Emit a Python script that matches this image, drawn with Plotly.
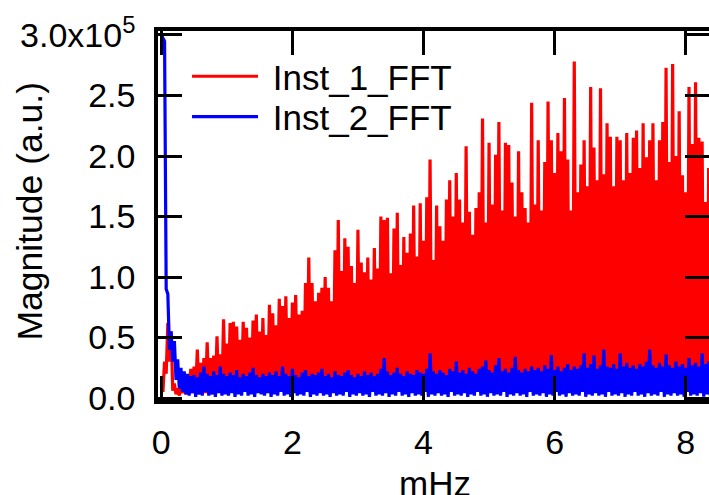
import numpy as np
import plotly.graph_objects as go

# Frequency grid step (mHz); peaks at i*STEP, troughs halfway between
STEP = 0.05

# Magnitudes in units of 1e5 (a.u.)
red_peak = [0.10,0.30,0.62,0.55,0.12,0.08,0.10,0.12,0.15,0.24,
            0.26,0.40,0.29,0.33,0.46,0.33,0.35,0.51,0.36,0.65,
            0.45,0.62,0.63,0.59,0.48,0.63,0.58,0.50,0.64,0.69,
            0.55,0.66,0.52,0.77,0.70,0.60,0.82,0.76,0.84,0.66,
            0.79,0.85,0.69,0.72,0.95,1.16,0.95,0.80,0.87,0.91,
            1.00,0.91,0.80,1.22,1.47,1.05,1.32,1.25,1.09,0.95,
            1.39,1.12,1.04,1.16,0.98,1.24,1.07,1.50,1.47,1.49,
            1.03,1.40,1.53,1.10,1.33,1.20,1.36,1.59,1.17,1.61,
            1.30,1.66,1.97,1.14,1.59,1.42,1.30,1.64,1.80,1.50,
            1.86,1.64,1.45,2.08,1.54,1.35,1.57,1.70,2.31,1.45,
            2.11,1.60,2.01,2.28,1.55,2.11,2.09,1.78,1.50,2.04,
            1.70,1.57,1.45,2.44,1.60,2.13,1.55,1.95,2.45,2.13,
            1.86,2.19,2.04,2.48,1.97,1.55,2.78,1.70,1.93,2.13,
            1.75,2.57,2.07,1.80,2.56,1.85,2.27,2.16,1.75,2.16,
            2.13,1.80,2.19,1.86,2.15,2.21,1.90,2.27,1.99,2.13,
            2.27,1.80,2.13,2.28,2.73,1.95,2.76,2.00,2.37,1.84,
            1.70,2.57,2.10,2.61,2.15,2.12,1.62,1.90]

red_trough = [0.05,0.20,0.30,0.06,0.03,0.02,0.04,0.03,0.05,0.04,
              0.06,0.03,0.05,0.04,0.07,0.03,0.05,0.06,0.04,0.08,
              0.05,0.07,0.04,0.06,0.09,0.05,0.07,0.04,0.08,0.06,
              0.05,0.09,0.06,0.04,0.08,0.07,0.05,0.10,0.06,0.08,
              0.07,0.05,0.09,0.06,0.10,0.07,0.05,0.08,0.11,0.06,
              0.09,0.07,0.10,0.05,0.08,0.12,0.07,0.09,0.06,0.10,
              0.08,0.11,0.07,0.09,0.12,0.06,0.10,0.08,0.11,0.07,
              0.09,0.12,0.08,0.10,0.07,0.11,0.09,0.13,0.08,0.10,
              0.12,0.09,0.11,0.08,0.13,0.10,0.12,0.09,0.11,0.14,
              0.10,0.12,0.09,0.13,0.11,0.10,0.14,0.12,0.09,0.13,
              0.11,0.14,0.10,0.12,0.15,0.11,0.13,0.10,0.14,0.12,
              0.15,0.11,0.13,0.12,0.14,0.10,0.15,0.13,0.11,0.14,
              0.12,0.16,0.13,0.11,0.15,0.12,0.14,0.13,0.16,0.12,
              0.14,0.11,0.15,0.13,0.16,0.12,0.14,0.15,0.13,0.16,
              0.12,0.15,0.14,0.13,0.16,0.12,0.15,0.14,0.16,0.13,
              0.15,0.12,0.16,0.14,0.13,0.15,0.16,0.12,0.14,0.15,
              0.13,0.16,0.14,0.12,0.15,0.13,0.16,0.14]

blue_peak = [3.00,2.95,0.86,0.55,0.47,0.32,0.25,0.22,0.20,0.18,
             0.19,0.17,0.21,0.26,0.20,0.18,0.22,0.19,0.26,0.20,
             0.18,0.21,0.19,0.23,0.17,0.20,0.18,0.21,0.25,0.19,
             0.17,0.20,0.18,0.21,0.19,0.22,0.18,0.26,0.20,0.18,
             0.24,0.19,0.17,0.21,0.23,0.18,0.20,0.19,0.21,0.24,
             0.18,0.20,0.17,0.22,0.19,0.18,0.21,0.23,0.19,0.17,
             0.20,0.18,0.22,0.19,0.21,0.18,0.20,0.24,0.33,0.22,
             0.19,0.21,0.25,0.20,0.18,0.22,0.20,0.19,0.23,0.21,
             0.20,0.24,0.37,0.22,0.20,0.23,0.21,0.19,0.24,0.22,
             0.30,0.21,0.23,0.20,0.25,0.22,0.20,0.24,0.26,0.31,
             0.23,0.21,0.27,0.33,0.22,0.24,0.21,0.25,0.34,0.23,
             0.21,0.24,0.22,0.26,0.23,0.25,0.22,0.27,0.24,0.355,
             0.23,0.26,0.22,0.25,0.28,0.23,0.26,0.24,0.27,0.37,
             0.25,0.28,0.35,0.24,0.27,0.40,0.26,0.25,0.28,0.24,
             0.37,0.26,0.29,0.25,0.27,0.24,0.28,0.26,0.30,0.40,
             0.27,0.25,0.29,0.26,0.36,0.27,0.25,0.30,0.26,0.28,
             0.25,0.33,0.27,0.29,0.26,0.37,0.28,0.30]

blue_trough = [2.98,0.90,0.40,0.30,0.15,0.08,0.05,0.03,0.02,0.04,
               0.01,0.03,0.02,0.05,0.02,0.03,0.01,0.04,0.02,0.03,
               0.02,0.04,0.01,0.03,0.02,0.05,0.02,0.03,0.01,0.04,
               0.03,0.02,0.04,0.01,0.03,0.02,0.05,0.02,0.03,0.01,
               0.04,0.02,0.03,0.02,0.05,0.01,0.03,0.02,0.04,0.02,
               0.03,0.01,0.04,0.02,0.03,0.02,0.05,0.01,0.03,0.02,
               0.04,0.02,0.03,0.01,0.05,0.02,0.03,0.02,0.04,0.01,
               0.03,0.02,0.05,0.02,0.03,0.01,0.04,0.02,0.03,0.02,
               0.05,0.01,0.03,0.02,0.04,0.02,0.03,0.01,0.05,0.02,
               0.03,0.02,0.04,0.01,0.03,0.02,0.05,0.02,0.03,0.01,
               0.04,0.02,0.03,0.02,0.05,0.01,0.03,0.02,0.04,0.02,
               0.03,0.01,0.05,0.02,0.03,0.02,0.04,0.01,0.03,0.02,
               0.05,0.02,0.03,0.01,0.04,0.02,0.03,0.02,0.05,0.01,
               0.03,0.02,0.04,0.02,0.03,0.01,0.05,0.02,0.03,0.02,
               0.04,0.01,0.03,0.02,0.05,0.02,0.03,0.01,0.04,0.02,
               0.03,0.02,0.05,0.01,0.03,0.02,0.04,0.02,0.03,0.01,
               0.05,0.02,0.03,0.02,0.04,0.01,0.03,0.02]

x_tickvals = [0, 2, 4, 6, 8]
x_ticktext = ["0", "2", "4", "6", "8"]
y_tickvals = [0, 0.5, 1.0, 1.5, 2.0, 2.5, 3.0]
y_ticktext = ["0.0", "0.5", "1.0", "1.5", "2.0", "2.5", "3.0x10<sup>5</sup>"]


def interleave(peaks, troughs):
    n = len(peaks)
    f = np.empty(2 * n)
    v = np.empty(2 * n)
    f[0::2] = np.arange(n) * STEP
    f[1::2] = np.arange(n) * STEP + STEP / 2
    v[0::2] = peaks
    v[1::2] = troughs
    return f, v


fr, vr = interleave(red_peak, red_trough)
fb, vb = interleave(blue_peak, blue_trough)

FONT = "Liberation Sans, Arial, sans-serif"
fig = go.Figure()
fig.add_trace(go.Scatter(x=fr, y=vr, mode="lines", name="\u00a0Inst_1_FFT",
                         line=dict(color="#ff0000", width=3.2), legend="legend"))
fig.add_trace(go.Scatter(x=fb, y=vb, mode="lines", name="\u00a0Inst_2_FFT",
                         line=dict(color="#0000ff", width=3.2), legend="legend2"))

leg_common = dict(x=0.0527, xanchor="left", yanchor="top",
                  bgcolor="rgba(0,0,0,0)", itemwidth=66, font=dict(size=35))

fig.update_layout(
    width=709, height=495,
    margin=dict(l=158, r=0, t=31, b=95),
    paper_bgcolor="white", plot_bgcolor="white",
    font=dict(family=FONT, size=34, color="black"),
    showlegend=True,
    legend=dict(y=0.9566, **leg_common),
    legend2=dict(y=0.8471, **leg_common),
    xaxis=dict(range=[-0.050, 8.355], tickvals=x_tickvals, ticktext=x_ticktext,
               showgrid=False, zeroline=False, showline=True, linecolor="black",
               linewidth=3.5, mirror="ticks", ticks="inside", ticklen=24,
               tickwidth=3.3, tickcolor="black", ticklabelstandoff=9,
               automargin=False),
    yaxis=dict(range=[-0.0165, 3.033], tickvals=y_tickvals, ticktext=y_ticktext,
               showgrid=False, zeroline=False, showline=True, linecolor="black",
               linewidth=3.5, mirror="ticks", ticks="inside", ticklen=24,
               tickwidth=3.3, tickcolor="black", ticklabelstandoff=12,
               automargin=False),
    annotations=[
        dict(text="Magnitude (a.u.)", textangle=-90, xref="paper", yref="paper",
             x=-0.2323, y=0.5108, xanchor="center", yanchor="middle",
             showarrow=False, font=dict(size=35.5)),
        dict(text="mHz", xref="paper", yref="paper",
             x=0.5022, y=-0.167, xanchor="center", yanchor="top",
             showarrow=False, font=dict(size=35)),
    ],
)
fig.write_html("out.html", config={"displayModeBar": False},
               post_script="document.body.style.margin='0';document.body.style.overflow='hidden';")
